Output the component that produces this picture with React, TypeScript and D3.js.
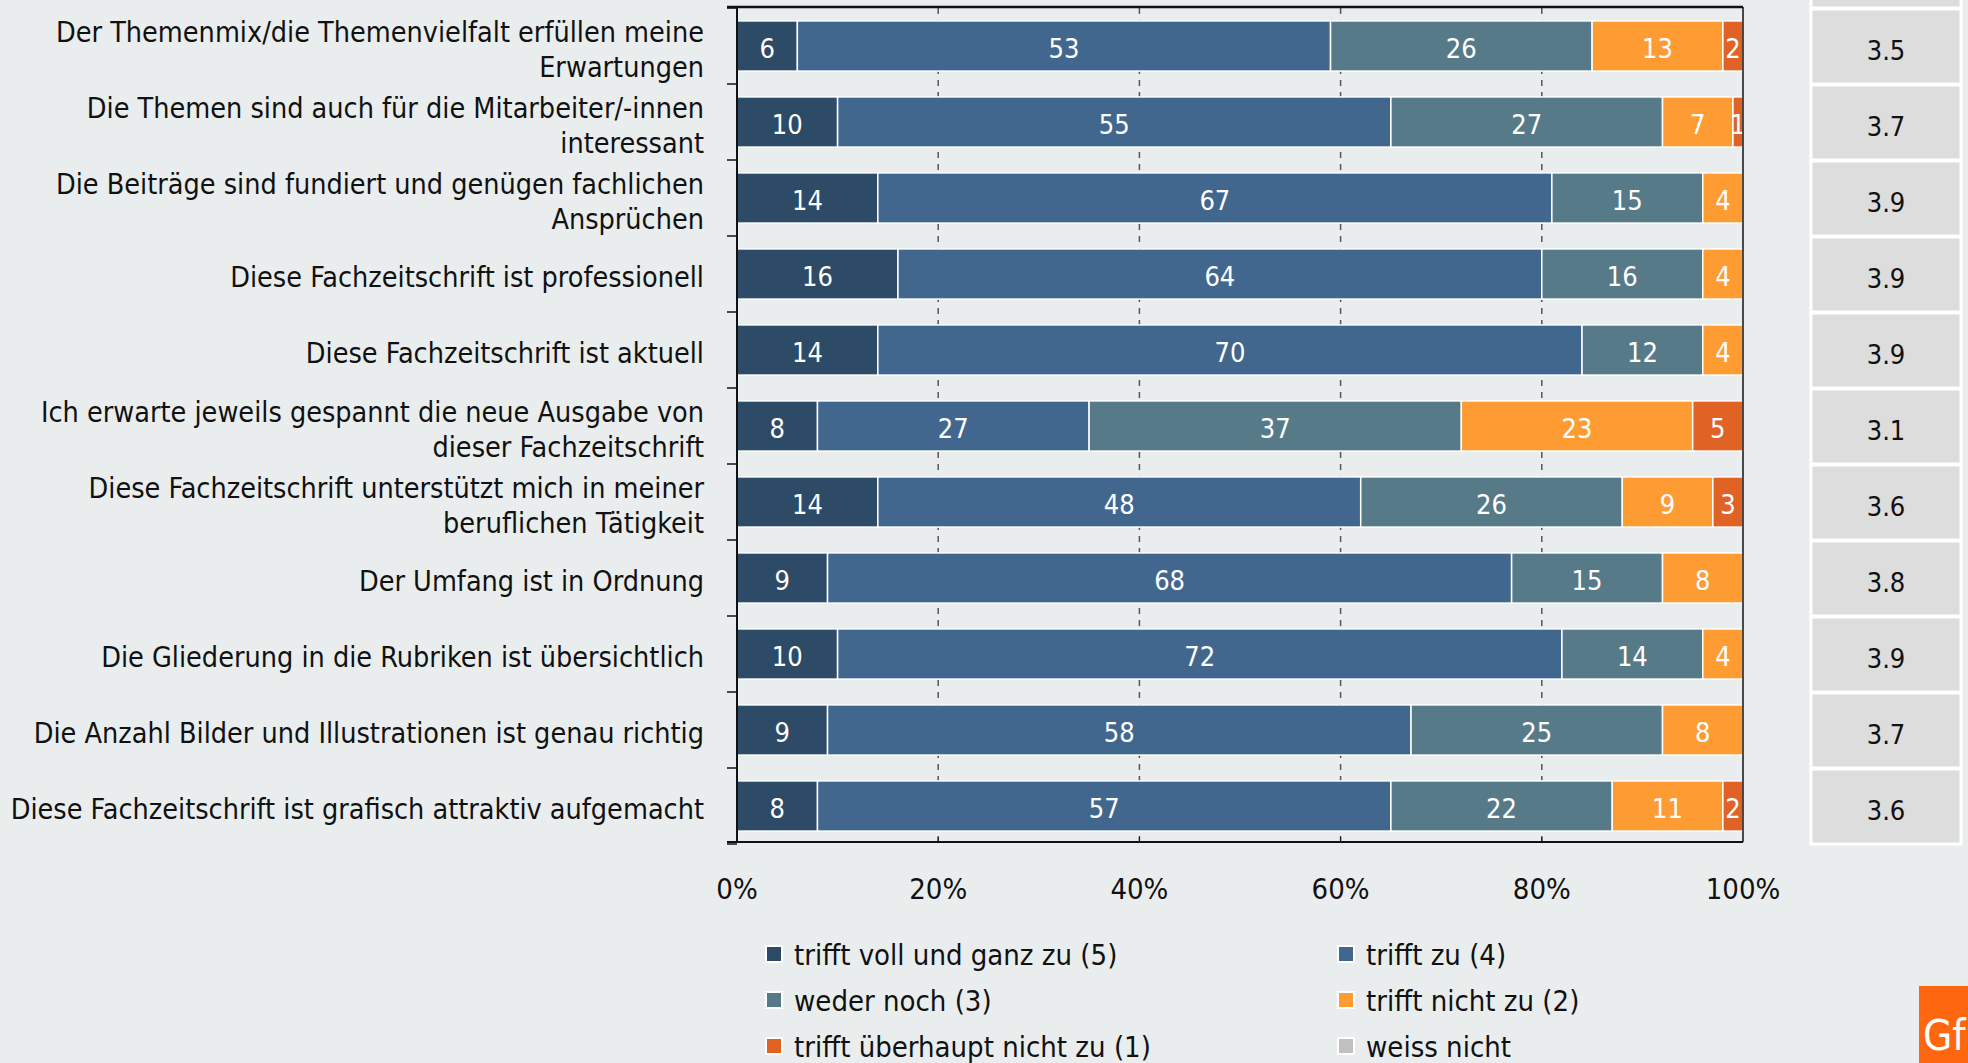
import { useRef, useEffect } from 'react'
import { select, scaleLinear, scaleBand, stack } from 'd3'

const categories = [
  ['Der Themenmix/die Themenvielfalt erfüllen meine', 'Erwartungen'],
  ['Die Themen sind auch für die Mitarbeiter/-innen', 'interessant'],
  ['Die Beiträge sind fundiert und genügen fachlichen', 'Ansprüchen'],
  ['Diese Fachzeitschrift ist professionell'],
  ['Diese Fachzeitschrift ist aktuell'],
  ['Ich erwarte jeweils gespannt die neue Ausgabe von', 'dieser Fachzeitschrift'],
  ['Diese Fachzeitschrift unterstützt mich in meiner', 'beruflichen Tätigkeit'],
  ['Der Umfang ist in Ordnung'],
  ['Die Gliederung in die Rubriken ist übersichtlich'],
  ['Die Anzahl Bilder und Illustrationen ist genau richtig'],
  ['Diese Fachzeitschrift ist grafisch attraktiv aufgemacht'],
]

const trifftVoll = [6, 10, 14, 16, 14, 8, 14, 9, 10, 9, 8]
const trifftZu = [53, 55, 67, 64, 70, 27, 48, 68, 72, 58, 57]
const wederNoch = [26, 27, 15, 16, 12, 37, 26, 15, 14, 25, 22]
const trifftNicht = [13, 7, 4, 4, 4, 23, 9, 8, 4, 8, 11]
const ueberhauptNicht = [2, 1, 0, 0, 0, 5, 3, 0, 0, 0, 2]
const weissNicht = [0, 0, 0, 0, 0, 0, 0, 0, 0, 0, 0]

const means = ['3.5', '3.7', '3.9', '3.9', '3.9', '3.1', '3.6', '3.8', '3.9', '3.7', '3.6']

const seriesNames = [
  'trifft voll und ganz zu (5)',
  'trifft zu (4)',
  'weder noch (3)',
  'trifft nicht zu (2)',
  'trifft überhaupt nicht zu (1)',
  'weiss nicht',
]
const colors = ['#2d4a67', '#42678f', '#577a89', '#ff9b33', '#e06224', '#c0c0c0']

const xTicks = [0, 20, 40, 60, 80, 100]

const FONT = "'DejaVu Sans Condensed', 'DejaVu Sans', sans-serif"

const App = () => {
  const svgRef = useRef(null)

  useEffect(() => {
    const svg = select(svgRef.current)
    svg.selectAll('*').remove()

    const left = 737
    const right = 1743
    const top = 8
    const bottom = 844

    const keys = ['v5', 'v4', 'v3', 'v2', 'v1', 'v0']
    const data = categories.map((c, i) => ({
      idx: i,
      v5: trifftVoll[i],
      v4: trifftZu[i],
      v3: wederNoch[i],
      v2: trifftNicht[i],
      v1: ueberhauptNicht[i],
      v0: weissNicht[i],
    }))

    const xScale = scaleLinear().domain([0, 100]).range([left, right])
    const yScale = scaleBand()
      .domain(data.map((d) => String(d.idx)))
      .range([top, bottom])
      .paddingInner(0.34)
      .paddingOuter(0.17)
    const band = yScale.step()
    const bandStart = (i) => top + i * band

    svg
      .append('rect')
      .attr('width', 1968)
      .attr('height', 1063)
      .attr('fill', '#e9edee')

    // dashed grid
    svg
      .append('g')
      .selectAll('line')
      .data(xTicks.slice(1, -1))
      .join('line')
      .attr('x1', (d) => xScale(d))
      .attr('x2', (d) => xScale(d))
      .attr('y1', top)
      .attr('y2', bottom - 2)
      .attr('stroke', '#555')
      .attr('stroke-width', 1.5)
      .attr('stroke-dasharray', '6,6')

    // bars
    const series = stack().keys(keys)(data)
    const barGroup = svg.append('g')
    series.forEach((s, si) => {
      const g = barGroup.append('g').attr('fill', colors[si])
      g.selectAll('rect')
        .data(s.filter((d) => d[1] - d[0] > 0))
        .join('rect')
        .attr('x', (d) => xScale(d[0]))
        .attr('width', (d) => xScale(d[1]) - xScale(d[0]))
        .attr('y', (d) => yScale(String(d.data.idx)))
        .attr('height', yScale.bandwidth())
        .attr('stroke', '#fff')
        .attr('stroke-width', 1.5)
      g.selectAll('text')
        .data(s.filter((d) => d[1] - d[0] > 0))
        .join('text')
        .text((d) => d[1] - d[0])
        .attr('x', (d) => (xScale(d[0]) + xScale(d[1])) / 2)
        .attr('y', (d) => yScale(String(d.data.idx)) + yScale.bandwidth() / 2 + 2)
        .attr('dy', '0.36em')
        .attr('text-anchor', 'middle')
        .attr('fill', '#fff')
        .attr('font-size', 27)
        .attr('font-family', FONT)
    })

    // frame / axes
    const axis = svg.append('g').attr('stroke', '#111').attr('fill', 'none')
    axis.append('line').attr('x1', 727).attr('x2', right).attr('y1', top - 1).attr('y2', top - 1).attr('stroke-width', 2.5)
    axis.append('line').attr('x1', 727).attr('x2', right).attr('y1', bottom - 2).attr('y2', bottom - 2).attr('stroke-width', 2)
    axis.append('line').attr('x1', left).attr('x2', left).attr('y1', top - 1).attr('y2', bottom - 2).attr('stroke-width', 2)
    axis.append('line').attr('x1', right).attr('x2', right).attr('y1', top - 1).attr('y2', bottom - 2).attr('stroke-width', 1.5)
    axis
      .selectAll('.yt')
      .data(categories.map((c, i) => i).concat([categories.length]))
      .join('line')
      .attr('x1', 727)
      .attr('x2', left)
      .attr('y1', (i) => bandStart(i))
      .attr('y2', (i) => bandStart(i))
      .attr('stroke-width', 1.5)
    axis
      .selectAll('.xt')
      .data(xTicks.slice(1, -1))
      .join('line')
      .attr('x1', (d) => xScale(d))
      .attr('x2', (d) => xScale(d))
      .attr('y1', bottom - 2)
      .attr('y2', bottom - 7)
      .attr('stroke-width', 1)

    // x tick labels
    svg
      .append('g')
      .selectAll('text')
      .data(xTicks)
      .join('text')
      .text((d) => `${d}%`)
      .attr('x', (d) => xScale(d))
      .attr('y', 899)
      .attr('text-anchor', 'middle')
      .attr('font-size', 29)
      .attr('font-family', FONT)
      .attr('fill', '#111')

    // category labels
    const catG = svg.append('g')
    categories.forEach((lines, i) => {
      const cy = bandStart(i) + band / 2 + 3
      const t = catG
        .append('text')
        .attr('text-anchor', 'end')
        .attr('font-size', 28.5)
        .attr('font-family', FONT)
        .attr('fill', '#111')
      lines.forEach((ln, li) => {
        t.append('tspan')
          .attr('x', 704)
          .attr('y', cy + (li - (lines.length - 1) / 2) * 35)
          .attr('dy', '0.36em')
          .text(ln)
      })
    })

    // means table
    const tab = svg.append('g')
    tab
      .append('rect')
      .attr('x', 1811)
      .attr('y', bandStart(-1))
      .attr('width', 150)
      .attr('height', band)
      .attr('fill', '#dddddd')
      .attr('stroke', '#fff')
      .attr('stroke-width', 3)
    means.forEach((m, i) => {
      tab
        .append('rect')
        .attr('x', 1811)
        .attr('y', bandStart(i) + 1)
        .attr('width', 150)
        .attr('height', band - 1)
        .attr('fill', '#dddddd')
        .attr('stroke', '#fff')
        .attr('stroke-width', 3)
      tab
        .append('text')
        .text(m)
        .attr('x', 1886)
        .attr('y', bandStart(i) + band / 2 + 4)
        .attr('dy', '0.36em')
        .attr('text-anchor', 'middle')
        .attr('font-size', 27)
        .attr('font-family', FONT)
        .attr('fill', '#111')
    })

    // legend
    const legend = svg.append('g')
    seriesNames.forEach((name, i) => {
      const col = i % 2
      const row = Math.floor(i / 2)
      const lx = col === 0 ? 766 : 1338
      const ly = 955 + row * 46
      legend
        .append('rect')
        .attr('x', lx)
        .attr('y', ly - 9)
        .attr('width', 16)
        .attr('height', 16)
        .attr('fill', colors[i])
        .attr('stroke', '#fff')
        .attr('stroke-width', 2)
      legend
        .append('text')
        .text(name)
        .attr('x', lx + 28)
        .attr('y', ly)
        .attr('dy', '0.36em')
        .attr('font-size', 29)
        .attr('font-family', FONT)
        .attr('fill', '#111')
    })

    // logo corner
    svg.append('rect').attr('x', 1919).attr('y', 986).attr('width', 60).attr('height', 90).attr('fill', '#ff6610')
    svg
      .append('text')
      .text('Gf')
      .attr('x', 1923)
      .attr('y', 1050)
      .attr('font-size', 42)
      .attr('font-family', FONT)
      .attr('fill', '#fff')
  }, [])

  return (
    <svg
      ref={svgRef}
      width={1968}
      height={1063}
      style={{ position: 'absolute', left: 0, top: 0, display: 'block' }}
    ></svg>
  )
}

export default App
